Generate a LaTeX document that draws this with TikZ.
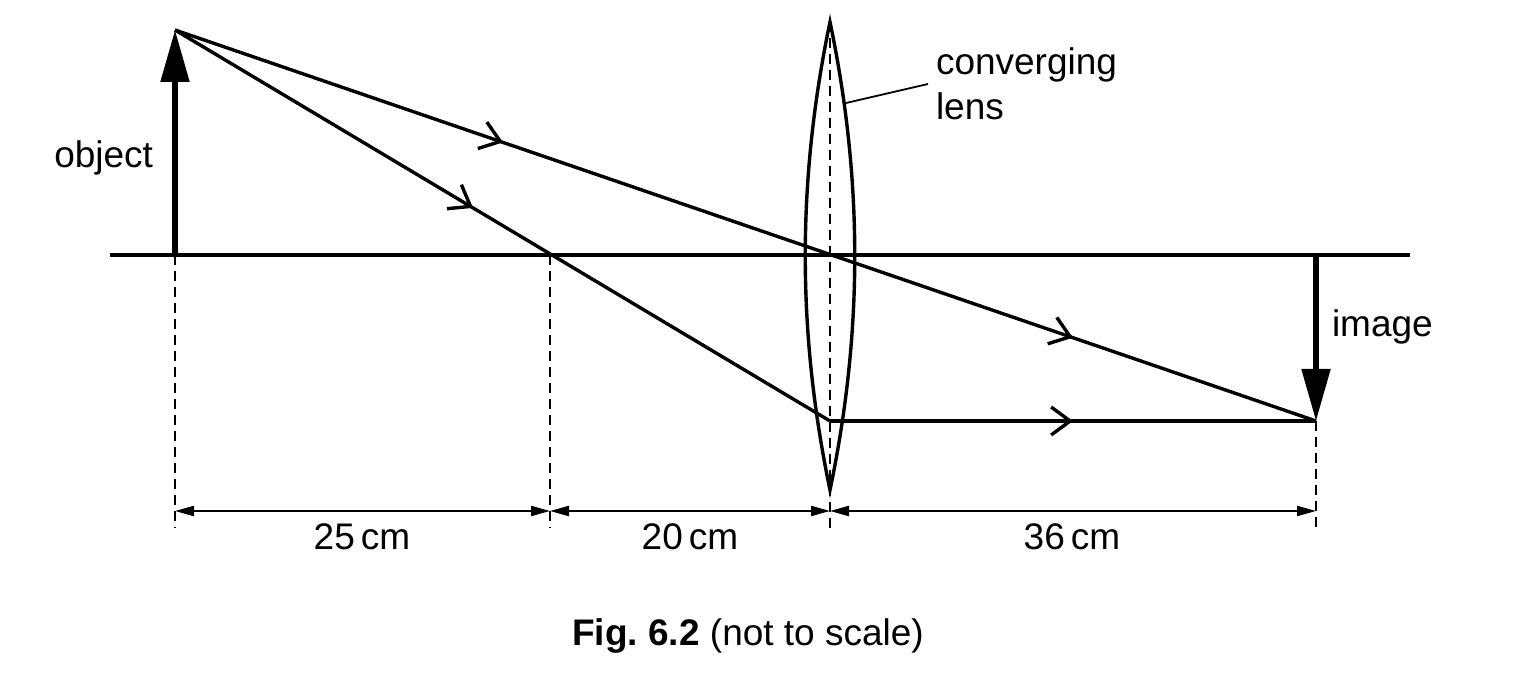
\documentclass[tikz,border=0pt]{standalone}
\usepackage{fontspec}
\setmainfont{Liberation Sans}
\usetikzlibrary{arrows.meta,decorations.markings}
\begin{document}
\begin{tikzpicture}[x=0.5pt,y=-0.5pt,
  every node/.style={inner sep=0pt,outer sep=0pt,font=\fontsize{18.5}{22.5}\selectfont},
  axis/.style={line width=1.6pt},
  ray/.style={line width=1.7pt},
  chev/.style={postaction={decorate,decoration={markings,mark=at position #1 with {\arrow[line width=1.7pt]{Straight Barb[length=9.5pt,width=14pt]}}}}},
  lensline/.style={line width=1.7pt},
  thickarrow/.style={line width=2.6pt,-{Triangle[length=26pt,width=14pt]}},
  guide/.style={line width=1.1pt,dash pattern=on 5pt off 3pt},
  dim/.style={line width=1.1pt,{Triangle[length=9.5pt,width=5pt]}-{Triangle[length=9.5pt,width=5pt]}},
  leader/.style={line width=0.9pt}
]
\useasboundingbox (0,0) rectangle (1520,673);
% key points
\coordinate (axL) at (110,255);
\coordinate (axR) at (1410,255);
\coordinate (O) at (175,30);
\coordinate (Ob) at (175,255);
\coordinate (F) at (550,255);
\coordinate (L) at (830,255);
\coordinate (Ltop) at (830,22);
\coordinate (Lbot) at (830,490);
\coordinate (P) at (830,421);
\coordinate (I) at (1316,421);
\coordinate (Ib) at (1316,255);
\coordinate (g1) at (175,528);
\coordinate (g2) at (550,528);
\coordinate (g3) at (830,528);
\coordinate (g4) at (1316,528);
\coordinate (d1) at (175,511);
\coordinate (d2) at (550,511);
\coordinate (d3) at (830,511);
\coordinate (d4) at (1316,511);
\coordinate (lp) at (846,103);
\coordinate (lq) at (928,84);

% axis
\draw[axis] (axL) -- (axR);
% guides
\draw[guide] (Ob) -- (g1);
\draw[guide] (F) -- (g2);
\draw[guide] (Ltop) -- (g3);
\draw[guide] (I) -- (g4);
% lens
\draw[lensline] (Ltop) .. controls (797,180) and (797,332) .. (Lbot)
                       .. controls (863,332) and (863,180) .. (Ltop) -- cycle;
% rays
\draw[ray,chev=0.2875,chev=0.787] (O) -- (I);
\draw[ray,chev=0.455] (O) -- (P);
\draw[ray,chev=0.5] (P) -- (I);
% object and image
\draw[thickarrow] (Ob) -- (O);
\draw[thickarrow] (Ib) -- (I);
% dimensions
\draw[dim] (d1) -- (d2);
\draw[dim] (d2) -- (d3);
\draw[dim] (d3) -- (d4);
% leader
\draw[leader] (lp) -- (lq);
% labels
\node[anchor=base east] (tobj) at (153,168) {object};
\node[anchor=base west] (timg) at (1332,337) {image};
\node[anchor=base west] (tlens1) at (936,75) {converging};
\node[anchor=base west] (tlens2) at (936,120) {lens};
\node[anchor=base] (t25) at (362,549) {25\,cm};
\node[anchor=base] (t20) at (690,549) {20\,cm};
\node[anchor=base] (t36) at (1072,549) {36\,cm};
\node[anchor=base] (cap) at (748,645) {\textbf{Fig.\ 6.2} (not to scale)};
\end{tikzpicture}
\end{document}
